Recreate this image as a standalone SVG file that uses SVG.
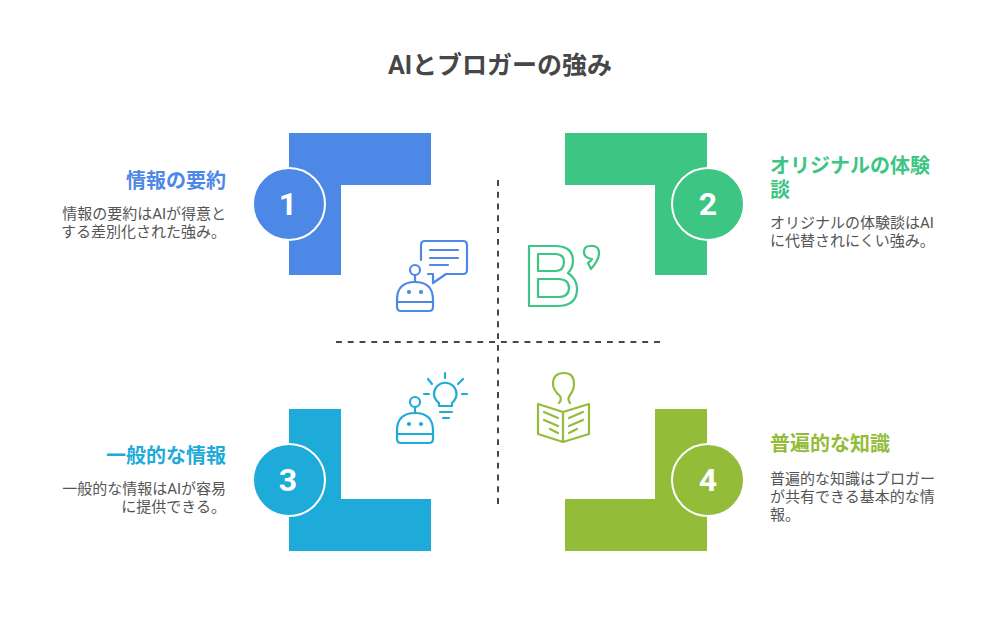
<svg xmlns="http://www.w3.org/2000/svg" width="1000" height="625" viewBox="0 0 1000 625">
<style>
text{font-family:Roboto,"Noto Sans CJK JP",sans-serif}
.t{font-size:25px;font-weight:700;fill:#474747}
.h{font-size:20px;font-weight:700}
.d{font-size:15px;fill:#555}
.n{font-size:32px;font-weight:700;fill:#fff;text-anchor:middle}
.e{text-anchor:end}
.c{stroke:#fff;stroke-width:2}
.i{fill:none;stroke-width:2.2;stroke-linecap:round;stroke-linejoin:round}
.a{stroke:#4e88e7}.b{stroke:#3cc583}.g{stroke:#1eabda}.k{stroke:#93bc39}
</style>
<rect width="1000" height="625" fill="#fff"/>
<text class="t" x="500" y="74" text-anchor="middle">AIとブロガーの強み</text>
<g id="connectors" stroke="#474747" stroke-width="2" stroke-dasharray="5.890 5.890" fill="none">
<path d="M498 180V504"/><path d="M336 342H660"/>
</g>
<g id="node1">
<path d="M289 133H431V185H341V275H289Z" fill="#4e88e7"/>
<circle class="c" cx="289" cy="204" r="36" fill="#4e88e7"/>
<text class="n" x="288" y="215">1</text>
<text class="h e" x="226" y="188" fill="#4e88e7">情報の要約</text>
<text class="d e" x="226" y="219">情報の要約はAIが得意と</text>
<text class="d e" x="226" y="237">する差別化された強み。</text>
<g class="i a">
<path d="M421 260V245Q421 241 425 241H463Q467 241 467 245V270Q467 274 463 274H446L433 283V274H428"/>
<path d="M430 250H458M430 258H458M430 265H448"/>
<circle cx="415" cy="270" r="5"/><path d="M415 275V282"/>
<path d="M397 307V300Q397 282 415 282Q433 282 433 300V307Q433 311 429 311H401Q397 311 397 307ZM397 302H433"/>
<circle cx="409" cy="292" r="1"/><circle cx="421" cy="292" r="1"/>
</g>
</g>
<g id="node2">
<path d="M565 133H707V275H655V185H565Z" fill="#3cc583"/>
<circle class="c" cx="708" cy="204" r="36" fill="#3cc583"/>
<text class="n" x="708" y="215">2</text>
<text class="h" x="770" y="173" fill="#3cc583">オリジナルの体験</text>
<text class="h" x="770" y="197" fill="#3cc583">談</text>
<text class="d" x="770" y="228">オリジナルの体験談はAI</text>
<text class="d" x="770" y="246">に代替されにくい強み。</text>
<g class="i b">
<path d="M529 246H555Q573 246 573 261Q573 268 568 273Q577 279 577 289Q577 306 557 306H529Z"/>
<path d="M538 254H555Q564 254 564 262Q564 271 555 271H538ZM538 279H558Q569 279 569 288Q569 297 558 297H538Z"/>
<path d="M590 246Q599 245 599 253Q599 260 591 269L588 263Q591 261 592 259Q584 258 584 252Q584 246 590 246Z"/>
</g>
</g>
<g id="node3">
<path d="M289 409H341V499H431V551H289Z" fill="#1eabda"/>
<circle class="c" cx="289" cy="480" r="36" fill="#1eabda"/>
<text class="n" x="288" y="491">3</text>
<text class="h e" x="226" y="463" fill="#1eabda">一般的な情報</text>
<text class="d e" x="226" y="494">一般的な情報はAIが容易</text>
<text class="d e" x="226" y="512">に提供できる。</text>
<g class="i g">
<circle cx="415" cy="402" r="5"/><path d="M415 407V413"/>
<path d="M397 439V431Q397 413 415 413Q433 413 433 431V439Q433 443 429 443H401Q397 443 397 439ZM397 434H433"/>
<circle cx="409" cy="424" r="1"/><circle cx="421" cy="424" r="1"/>
<path d="M439 406V403Q434 399 434 394A11 11 0 0 1 456.500 394Q456.500 399 452 403V406Z"/>
<path d="M445 373V378M428 379L432 384M463 379L458 384M424 394H429M462 394H467M440 412H452M443 418H449"/>
</g>
</g>
<g id="node4">
<path d="M655 409H707V551H565V499H655Z" fill="#93bc39"/>
<circle class="c" cx="708" cy="480" r="36" fill="#93bc39"/>
<text class="n" x="708" y="491">4</text>
<text class="h" x="770" y="451" fill="#93bc39">普遍的な知識</text>
<text class="d" x="770" y="484">普遍的な知識はブロガー</text>
<text class="d" x="770" y="502">が共有できる基本的な情</text>
<text class="d" x="770" y="520">報。</text>
<g class="i k">
<path d="M559 403Q562 400 560 396Q553 390 553 384Q553 373 564 373Q574 373 574 384Q574 390 570 395Q567 399 570 403"/>
<path d="M563 412L538 404V434L563 442L589 434V404ZM563 412V442"/>
<path d="M544 412L558 418M544 420L558 426M550 429L558 433M569 418L583 412M569 426L583 420M569 433L577 429"/>
</g>
</g>
</svg>
